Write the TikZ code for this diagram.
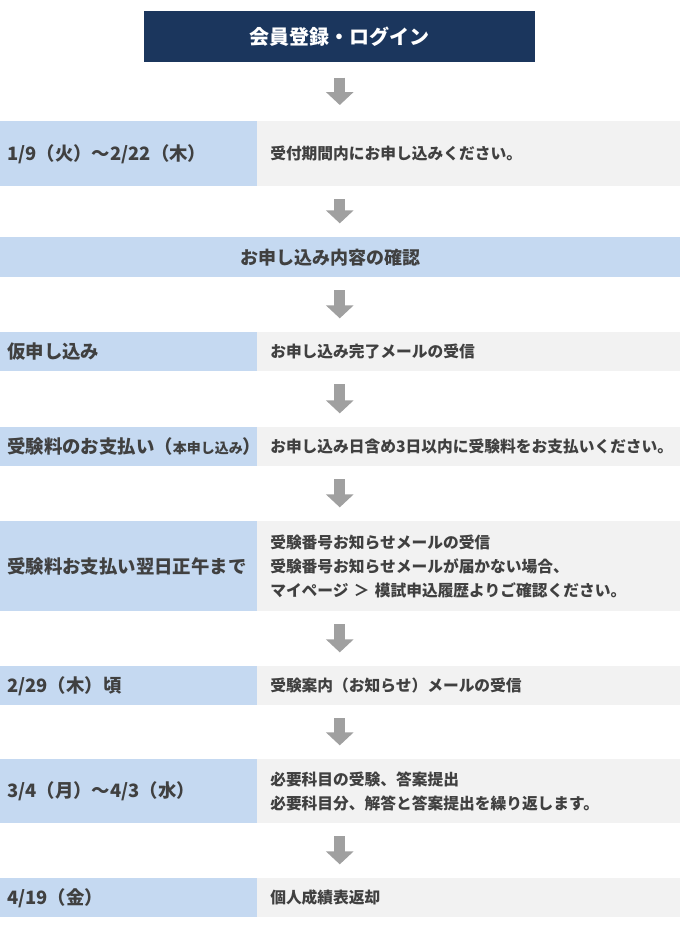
\documentclass[tikz,border=0pt]{standalone}
\usepackage{fontspec}
\newfontfamily\jp{Noto Sans CJK JP}
\usepackage{tikz}
\usetikzlibrary{arrows.meta,positioning}

\definecolor{navy}{RGB}{27,54,93}
\definecolor{paleblue}{RGB}{197,217,241}
\definecolor{palegrey}{RGB}{242,242,242}
\definecolor{arrowgrey}{RGB}{160,160,160}
\definecolor{ink}{RGB}{64,64,64}

\begin{document}
\begin{tikzpicture}[
x=0.75pt,y=-0.75pt,
head/.style={
rectangle,
anchor=north west,
fill=navy,
text=white,
minimum width=293.25pt,
minimum height=38.25pt,
font=\jp\bfseries\fontsize{15pt}{18pt}\selectfont
},
band/.style={
rectangle,
anchor=north west,
fill=paleblue,
text=ink,
inner sep=0pt,
minimum width=510pt,
minimum height=30pt,
font=\jp\bfseries\fontsize{13.5pt}{18pt}\selectfont
},
when/.style={
rectangle,
anchor=north west,
fill=paleblue,
text=ink,
inner xsep=5.25pt,
inner ysep=0pt,
text width=182.25pt,
align=left,
minimum height=#1,
font=\jp\bfseries\fontsize{13.8pt}{18pt}\selectfont
},
info/.style={
rectangle,
anchor=north west,
fill=palegrey,
text=ink,
inner xsep=9.75pt,
inner ysep=0pt,
text width=297.75pt,
align=left,
minimum height=#1,
font=\jp\bfseries\fontsize{11.8pt}{18pt}\selectfont
},
down/.style={
draw=arrowgrey,
line width=8.25pt,
-{Triangle[width=20.25pt,length=9.75pt]},
shorten <=9.5pt,
shorten >=10.25pt
}]

\path[use as bounding box,fill=white] (0,0) rectangle (680,928);

\node[head] (login) at (144,11) {会員登録・ログイン};

\node[when=48.75pt] (period) at (0,121) {1/9（火）～2/22（木）};
\node[info=48.75pt] (periodnote) at (257,121) {受付期間内にお申し込みください。};

\node[band] (confirm) at (0,237) {お申し込み内容の確認\hspace*{15pt}};

\node[when=29.25pt] (temp) at (0,332) {仮申し込み};
\node[info=29.25pt] (tempnote) at (257,332) {お申し込み完了メールの受信};

\node[when=29.25pt] (pay) at (0,427) {受験料のお支払い（{\fontsize{10.5pt}{18pt}\selectfont 本申し込み}）};
\node[info=29.25pt] (paynote) at (257,427) {お申し込み日含め3日以内に受験料をお支払いください。};

\node[when=67.5pt] (num) at (0,521) {受験料お支払い翌日正午まで};
\node[info=67.5pt] (numnote) at (257,521) {受験番号お知らせメールの受信\\受験番号お知らせメールが届かない場合、\\マイページ ＞ 模試申込履歴よりご確認ください。};

\node[when=29.25pt] (guide) at (0,666) {2/29（木）頃};
\node[info=29.25pt] (guidenote) at (257,666) {受験案内（お知らせ）メールの受信};

\node[when=48pt] (exam) at (0,759) {3/4（月）～4/3（水）};
\node[info=48pt] (examnote) at (257,759) {必要科目の受験、答案提出\\必要科目分、解答と答案提出を繰り返します。};

\node[when=29.25pt] (result) at (0,878) {4/19（金）};
\node[info=29.25pt] (resultnote) at (257,878) {個人成績表返却};

\draw[down,shorten <=11.25pt,shorten >=12pt] (login.south) -- (login.south |- period.north);
\draw[down] (login.south |- period.south) -- (login.south |- confirm.north);
\draw[down] (login.south |- confirm.south) -- (login.south |- temp.north);
\draw[down] (login.south |- temp.south) -- (login.south |- pay.north);
\draw[down] (login.south |- pay.south) -- (login.south |- num.north);
\draw[down] (login.south |- num.south) -- (login.south |- guide.north);
\draw[down] (login.south |- guide.south) -- (login.south |- exam.north);
\draw[down] (login.south |- exam.south) -- (login.south |- result.north);

\end{tikzpicture}
\end{document}
